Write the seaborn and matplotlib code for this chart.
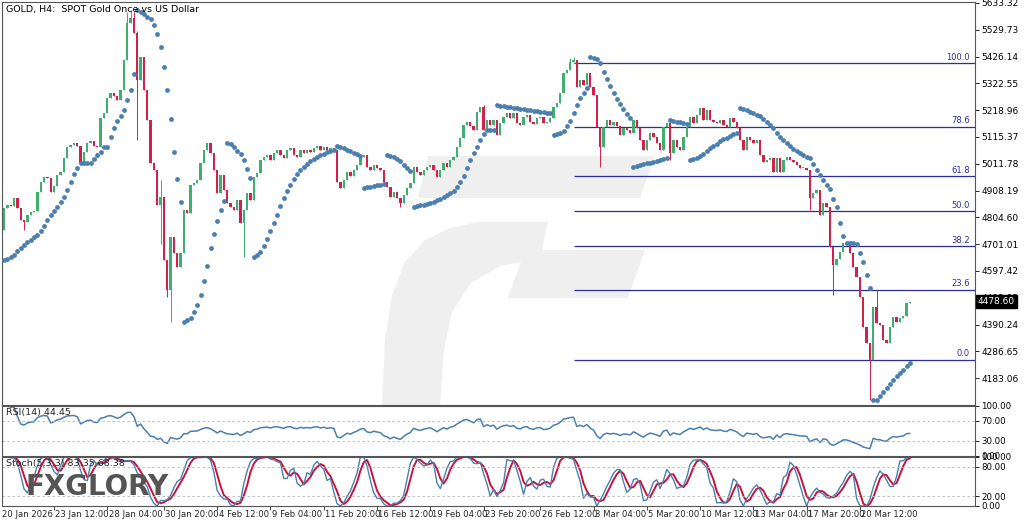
import numpy as np
import pandas as pd
import matplotlib
matplotlib.use("Agg")
import matplotlib.pyplot as plt
import seaborn as sns
from matplotlib.transforms import blended_transform_factory
from matplotlib.patches import Polygon

sns.set_theme(style="white")
plt.rcParams['font.family'] = ['DejaVu Sans']

# GOLD H4 closes (20 Jan - 24 Mar 2026)
closes = [
    4841, 4853, 4849, 4880, 4841, 4795, 4787, 4814, 4826, 4829,
    4903, 4941, 4961, 4957, 4903, 4926, 4969, 4980, 5034, 5077,
    5085, 5092, 5081, 5015, 5057, 5092, 5100, 5081, 5077, 5189,
    5208, 5266, 5285, 5274, 5258, 5297, 5413, 5556, 5575, 5517,
    5336, 5424, 5297, 5181, 5015, 4988, 4853, 4884, 4640, 4524,
    4729, 4667, 4613, 4667, 4833, 4822, 4930, 4938, 4949, 5015,
    5065, 5092, 5054, 4988, 4899, 4969, 4911, 4860, 4845, 4833,
    4872, 4783, 4833, 4899, 4872, 4961, 4976, 5027, 5038, 5046,
    5027, 5054, 5065, 5046, 5034, 5065, 5073, 5046, 5038, 5065,
    5054, 5065, 5057, 5073, 5081, 5065, 5077, 5065, 5073, 5065,
    4941, 4918, 4949, 4980, 4965, 4988, 5007, 5038, 5046, 4999,
    4988, 5007, 4996, 4988, 4941, 4922, 4884, 4903, 4880, 4860,
    4891, 4918, 4938, 4999, 4980, 4969, 4988, 4999, 5007, 4988,
    4961, 4988, 5015, 4999, 5027, 5038, 5077, 5112, 5162, 5173,
    5158, 5142, 5212, 5231, 5142, 5181, 5162, 5181, 5123, 5170,
    5193, 5208, 5189, 5208, 5170, 5162, 5193, 5200, 5173, 5166,
    5189, 5193, 5170, 5173, 5189, 5231, 5247, 5285, 5363, 5374,
    5405, 5413, 5309, 5336, 5316, 5363, 5309, 5278, 5154, 5077,
    5154, 5181, 5162, 5173, 5158, 5123, 5150, 5142, 5131, 5181,
    5150, 5104, 5065, 5104, 5131, 5115, 5092, 5065, 5154, 5170,
    5054, 5104, 5077, 5065, 5115, 5154, 5193, 5170, 5200, 5227,
    5181, 5220, 5181, 5173, 5170,
    5181, 5162, 5154, 5189, 5173, 5150, 5104, 5065, 5115, 5104,
    5092, 5104, 5046, 5019, 5027, 5034, 4980, 5034, 4980, 5027,
    5038, 5027, 5019, 5007, 4996, 4996, 4988, 4880, 4899, 4911,
    4814, 4860, 4845, 4690, 4621, 4645, 4672, 4705, 4700, 4667,
    4613, 4574, 4497, 4381, 4319, 4253, 4458, 4397, 4389, 4331,
    4319, 4381, 4420, 4400, 4416, 4424, 4474, 4478.60,
]
first_open = 4756

# visible wicks (bar -> price)
wick_highs = {37: 5599, 38: 5606, 39: 5600, 40: 5525, 47: 4949, 144: 5239,
              170: 5420, 171: 5424, 262: 4524}
wick_lows = {6: 4756, 40: 5104, 47: 4700, 49: 4497, 50: 4400, 72: 4652,
             119: 4845, 179: 4999, 200: 5027, 242: 4833, 249: 4505, 260: 4098}

fib_high = 5400
fib_low = 4255
fib_start = 171
fib_levels = [0.0, 23.6, 38.2, 50.0, 61.8, 78.6, 100.0]

price_ticks = [5633.32, 5529.73, 5426.14, 5322.55, 5218.96, 5115.37, 5011.78,
               4908.19, 4804.60, 4701.01, 4597.42, 4493.83, 4390.24, 4286.65,
               4183.06]
date_ticks = [15, 31, 48, 64, 80, 96, 112, 128, 144, 161, 177, 193, 209, 225, 241, 257]
date_labels = ['23 Jan 12:00', '28 Jan 04:00', '30 Jan 20:00', '4 Feb 12:00',
               '9 Feb 04:00', '11 Feb 20:00', '16 Feb 12:00', '19 Feb 04:00',
               '23 Feb 20:00', '26 Feb 12:00', '3 Mar 04:00', '5 Mar 20:00',
               '10 Mar 12:00', '13 Mar 04:00', '17 Mar 20:00', '20 Mar 12:00']
first_label = '20 Jan 2026'

bull = '#3fae6e'
bear = '#d41f4b'
sar_col = '#4a7fb0'
fib_col = '#2e2e96'

# ---- frame
df = pd.DataFrame({'bar': np.arange(len(closes)), 'close': closes})
df['open'] = [first_open] + closes[:-1]
df['high'] = df[['open', 'close']].max(axis=1)
df['low'] = df[['open', 'close']].min(axis=1)
for b, v in wick_highs.items():
    df.loc[b, 'high'] = v
for b, v in wick_lows.items():
    df.loc[b, 'low'] = v

# parabolic SAR (0.02, 0.2)
def psar(high, low, start, step=0.02, amax=0.2):
    n = len(high)
    sar = np.zeros(n)
    sar[0] = start
    up, af, ep = True, step, high[0]
    for i in range(1, n):
        s = sar[i - 1] + af * (ep - sar[i - 1])
        if up:
            s = min(s, low[i - 1], low[max(i - 2, 0)])
            if low[i] < s:
                up, s, ep, af = False, ep, low[i], step
            elif high[i] > ep:
                ep, af = high[i], min(af + step, amax)
        else:
            s = max(s, high[i - 1], high[max(i - 2, 0)])
            if high[i] > s:
                up, s, ep, af = True, ep, high[i], step
            elif low[i] < ep:
                ep, af = low[i], min(af + step, amax)
        sar[i] = s
    return sar

df['sar'] = psar(df['high'].values, df['low'].values, 4640)

# RSI(14)
d = df['close'].diff()
gain = d.clip(lower=0).ewm(alpha=1 / 14, adjust=False).mean()
loss = (-d.clip(upper=0)).ewm(alpha=1 / 14, adjust=False).mean()
df['rsi'] = 100 - 100 / (1 + gain / loss)

# Stochastic(5,3,3)
ll = df['low'].rolling(5, min_periods=1).min()
hh = df['high'].rolling(5, min_periods=1).max()
num = (df['close'] - ll).rolling(3, min_periods=1).sum()
den = (hh - ll).rolling(3, min_periods=1).sum()
df['k'] = 100 * num / den
df['d'] = df['k'].rolling(3, min_periods=1).mean()

# ---- figure
fig = plt.figure(figsize=(10.24, 5.24), dpi=100)
ax = fig.add_axes([0.002, 0.2271, 0.950, 0.7691])
ax_rsi = fig.add_axes([0.002, 0.1298, 0.950, 0.0954], sharex=ax)
ax_st = fig.add_axes([0.002, 0.0344, 0.950, 0.0935], sharex=ax)

xmax = 291.5
ax.set_xlim(-0.6, xmax)
ax.set_ylim(4079.5, 5637)

def px(x, y):
    return (x / 1024, 1 - y / 524)

# faint logo watermark
g_col = '#efefef'
shapes = [
    [(428, 156), (655, 156), (640, 198), (418, 198)],
    [(478, 222), (548, 222), (540, 258), (500, 266), (470, 284), (452, 312),
     (444, 350), (440, 405), (382, 405), (385, 340), (392, 295), (405, 262),
     (425, 240), (450, 228)],
    [(525, 250), (645, 250), (628, 298), (508, 298)],
]
for sh in shapes:
    ax.add_patch(Polygon([px(*p) for p in sh], closed=True, transform=fig.transFigure,
                         facecolor=g_col, edgecolor='none', zorder=0))

# candles
cols = np.where(df['close'] >= df['open'], bull, bear)
ax.vlines(df['bar'], df['low'], df['high'], colors=cols, lw=0.7, zorder=2)
body_lo = df[['open', 'close']].min(axis=1)
body_h = (df['close'] - df['open']).abs().clip(lower=2.5)
ax.bar(df['bar'], body_h, bottom=body_lo, width=0.7, color=cols, linewidth=0, zorder=2)

# SAR
sns.scatterplot(data=df, x='bar', y='sar', ax=ax, color=sar_col, s=12,
                linewidth=0, zorder=3, legend=False)

# fibonacci
for lv in fib_levels:
    price = fib_low + lv / 100 * (fib_high - fib_low)
    ax.hlines(price, fib_start, xmax, color=fib_col, lw=0.9, zorder=1)
    ax.text(xmax - 1.5, price + 6, f'{lv:.1f}', color=fib_col, fontsize=6,
            ha='right', va='bottom')

ax.text(0.004, 0.993, 'GOLD, H4:  SPOT Gold Once vs US Dollar', transform=ax.transAxes,
        fontsize=6.8, va='top', ha='left', color='black')

# RSI panel
sns.lineplot(data=df, x='bar', y='rsi', ax=ax_rsi, color=sar_col, lw=1.1)
ax_rsi.set_ylim(0, 100)
for lv in (70, 30):
    ax_rsi.axhline(lv, color='#b5b5b5', lw=0.6, ls=(0, (3, 3)))
ax_rsi.set_yticks([100, 70, 30, 0])
ax_rsi.text(0.004, 0.95, 'RSI(14) 44.45', transform=ax_rsi.transAxes,
            fontsize=6.8, va='top', ha='left')

# Stoch panel
sns.lineplot(data=df, x='bar', y='d', ax=ax_st, color='#c8123e', lw=1.4)
sns.lineplot(data=df, x='bar', y='k', ax=ax_st, color=sar_col, lw=1.0)
ax_st.set_ylim(0, 100)
for lv in (80, 20):
    ax_st.axhline(lv, color='#b5b5b5', lw=0.6, ls=(0, (3, 3)))
ax_st.set_yticks([100, 80, 20, 0])
ax_st.text(0.004, 0.95, 'Stoch(5,3,3) 83.35 68.38', transform=ax_st.transAxes,
           fontsize=6.8, va='top', ha='left', zorder=5)

fig.text(25 / 1024, 1 - 487 / 524, 'FXGLORY', fontsize=20, fontweight='bold',
         color='#555555', va='center', ha='left', zorder=10)

# axes styling
for a in (ax, ax_rsi, ax_st):
    a.yaxis.tick_right()
    a.set_xlabel('')
    a.set_ylabel('')
    a.tick_params(axis='y', length=3, width=0.6, labelsize=6.5, pad=1.5,
                  direction='out', right=True, colors='black')
    for sp in a.spines.values():
        sp.set_color('#555555')
        sp.set_linewidth(0.8)
    a.set_facecolor('none')

ax.set_yticks(price_ticks)
ax.set_yticklabels([f'{p:.2f}' for p in price_ticks])
ax_rsi.set_yticklabels(['100.00', '70.00', '30.00', '0.00'])
ax_st.set_yticklabels(['100.00', '80.00', '20.00', '0.00'])
ax_st.tick_params(axis='y', labelsize=6.2)
ax_rsi.tick_params(axis='y', labelsize=6.2)

ax.tick_params(axis='x', bottom=False, labelbottom=False)
ax_rsi.tick_params(axis='x', bottom=False, labelbottom=False)
ax_st.set_xticks(date_ticks)
ax_st.tick_params(axis='x', bottom=True, length=3, width=0.6, labelbottom=False, direction='out')

tr = blended_transform_factory(ax_st.transData, ax_st.transAxes)
ax_st.text(-0.6, -0.08, first_label, transform=tr, fontsize=6.1, ha='left', va='top', clip_on=False)
for b, lab in zip(date_ticks, date_labels):
    ax_st.text(b + 0.4, -0.08, lab, transform=tr, fontsize=6.1, ha='left', va='top', clip_on=False)

# last price tag
trp = blended_transform_factory(ax.transAxes, ax.transData)
ax.text(1.003, closes[-1], f'{closes[-1]:.2f}', transform=trp, color='white', fontsize=6.5,
        ha='left', va='center', clip_on=False, zorder=10,
        bbox=dict(boxstyle='square,pad=0.25', fc='black', ec='black'))

fig.savefig('out.png', dpi=100)
